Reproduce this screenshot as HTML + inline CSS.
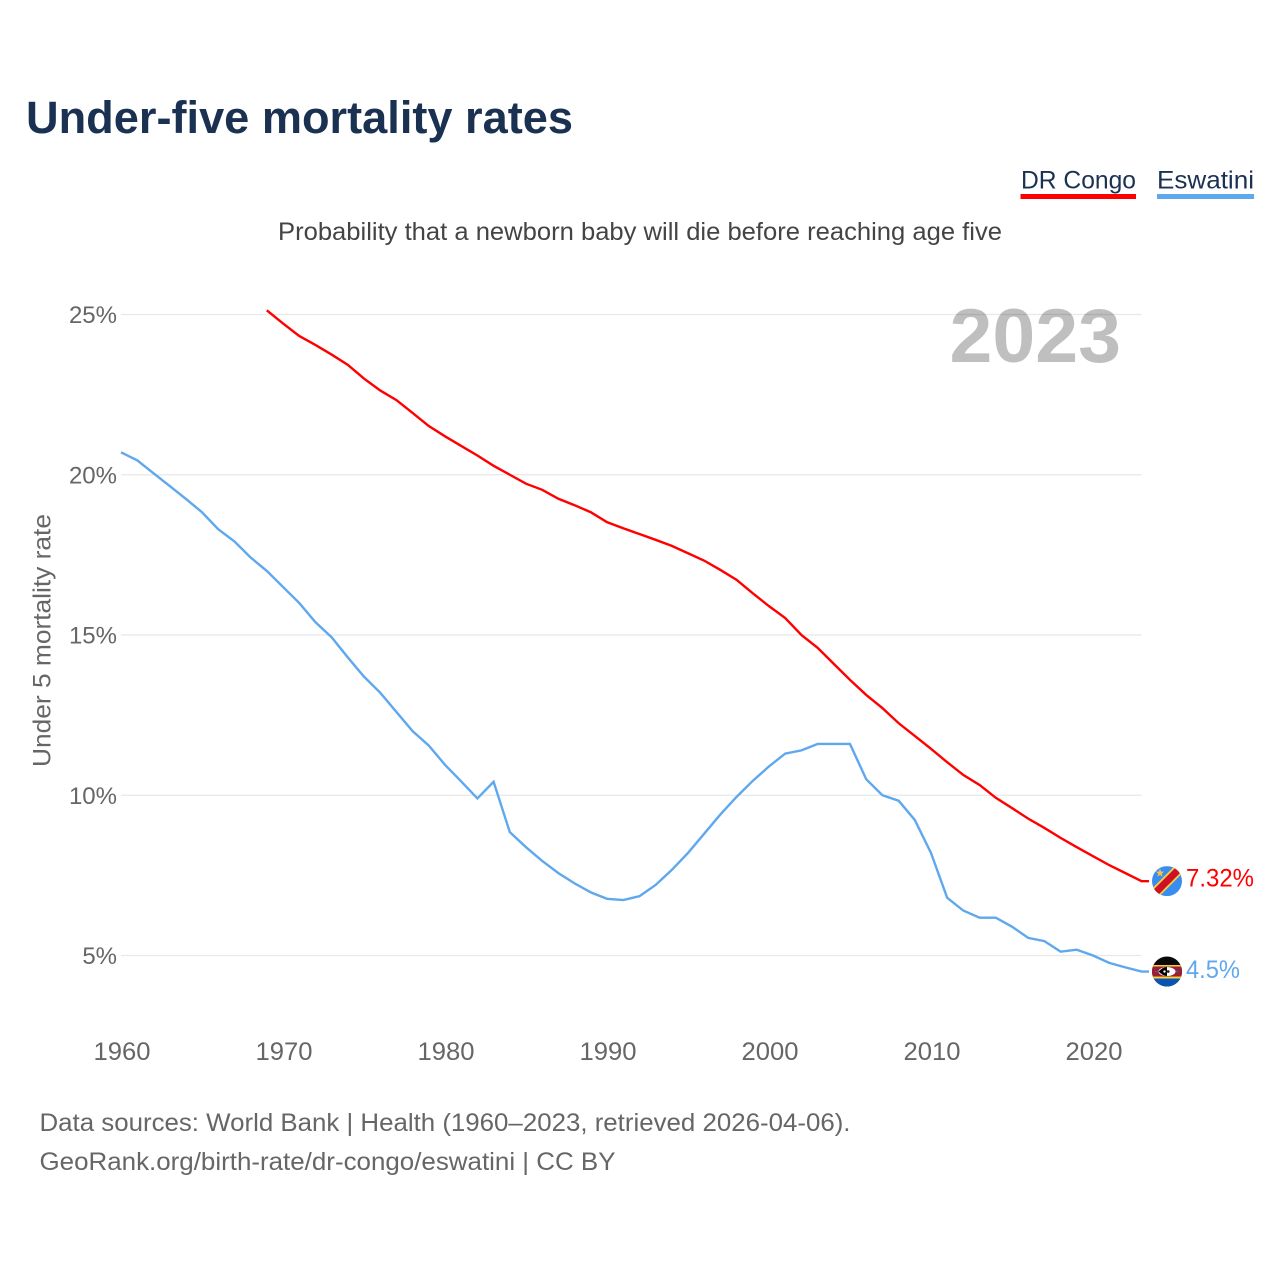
<!DOCTYPE html>
<html lang="en">
<head>
<meta charset="utf-8">
<title>Under-five mortality rates</title>
<style>
html,body{margin:0;padding:0;background:#fff;width:1280px;height:1280px;overflow:hidden}
svg{display:block}
text{font-family:"Liberation Sans",sans-serif}
</style>
</head>
<body>
<svg id="chart" xmlns="http://www.w3.org/2000/svg" width="1280" height="1280" viewBox="0 0 1280 1280">
  <defs>
    <clipPath id="flag-clip-a"><circle cx="0" cy="0" r="15"/></clipPath>
  </defs>
  <text x="26" y="133" font-size="45" font-weight="700" fill="#1a3152" textLength="547" lengthAdjust="spacingAndGlyphs">Under-five mortality rates</text>
  <g>
    <text x="1021" y="188.5" font-size="25" fill="#1a3152" textLength="115" lengthAdjust="spacingAndGlyphs">DR Congo</text>
    <rect x="1020.5" y="194" width="115.5" height="5" fill="#ff0000"/>
  </g>
  <g>
    <text x="1157" y="188.5" font-size="25" fill="#1a3152" textLength="97" lengthAdjust="spacingAndGlyphs">Eswatini</text>
    <rect x="1157" y="194" width="97" height="5" fill="#5fa8ee"/>
  </g>
  <text x="278" y="240" font-size="25" fill="#444444" textLength="724" lengthAdjust="spacingAndGlyphs">Probability that a newborn baby will die before reaching age five</text>
  <g id="grid"></g>
  <text x="949.5" y="362" font-size="76" font-weight="700" fill="#000000" fill-opacity="0.25" textLength="171.5" lengthAdjust="spacingAndGlyphs">2023</text>
  <g id="yticks"></g>
  <g id="xticks"></g>
  <text transform="translate(50.5,767) rotate(-90)" font-size="25" fill="#666666" textLength="253" lengthAdjust="spacingAndGlyphs">Under 5 mortality rate</text>
  <g id="series"></g>
  <g id="flag-congo">
    <g clip-path="url(#flag-clip-a)">
      <rect x="-15" y="-15" width="30" height="30" fill="#3a8df0"/>
      <polygon points="-22,14.5 14.5,-22 22,-14.5 -14.5,22" fill="#f7d13c"/>
      <polygon points="-20,15 15,-20 20,-15 -15,20" fill="#ce1126"/>
      <polygon points="-7,-12.5 -5.9,-9.5 -2.8,-9.5 -5.2,-7.5 -4.4,-4.5 -7,-6.2 -9.6,-4.5 -8.8,-7.5 -11.2,-9.5 -8.1,-9.5" fill="#f7c14c"/>
    </g>
  </g>
  <g id="flag-eswatini">
    <g clip-path="url(#flag-clip-a)">
      <rect x="-15" y="-15" width="30" height="30" fill="#0a0a0a"/>
      <rect x="-15" y="-6.5" width="30" height="1.6" fill="#f9d23c"/>
      <rect x="-15" y="-5" width="30" height="10" fill="#a01c30"/>
      <rect x="-15" y="5" width="30" height="2" fill="#f9d23c"/>
      <rect x="-15" y="7" width="30" height="8" fill="#0a55b0"/>
      <rect x="-12" y="-0.7" width="24" height="1.4" fill="#3a5fa8"/>
      <ellipse cx="0" cy="0" rx="8.5" ry="4.5" fill="#ffffff"/>
      <path d="M-8.5,0 Q-4,-4.5 0,-4.5 L0,4.5 Q-4,4.5 -8.5,0Z" fill="#000000"/>
      <circle cx="1.2" cy="0" r="1.4" fill="#222222"/>
      <circle cx="-2.5" cy="0" r="1.2" fill="#ffffff"/>
    </g>
  </g>
  <text id="label-congo" x="1186" font-size="25" fill="#ff0000" textLength="68" lengthAdjust="spacingAndGlyphs"></text>
  <text id="label-eswatini" x="1186" font-size="25" fill="#5fa8ee" textLength="54" lengthAdjust="spacingAndGlyphs"></text>
  <text x="39.5" y="1131" font-size="25" fill="#666666" textLength="811" lengthAdjust="spacingAndGlyphs">Data sources: World Bank | Health (1960–2023, retrieved 2026-04-06).</text>
  <text x="39.5" y="1170" font-size="25" fill="#666666" textLength="576" lengthAdjust="spacingAndGlyphs">GeoRank.org/birth-rate/dr-congo/eswatini | CC BY</text>
</svg>
<script>
const firstYear = 1960;
const lastYear = 2023;
const xTickYears = [1960, 1970, 1980, 1990, 2000, 2010, 2020];
const yTickValues = [5, 10, 15, 20, 25];
const congoStartYear = 1969;
const congoValues = [25.13, 24.72, 24.33, 24.05, 23.75, 23.43, 23.0, 22.63, 22.33, 21.93, 21.52, 21.2, 20.9, 20.6, 20.28, 20.0, 19.72, 19.53, 19.25, 19.05, 18.83, 18.52, 18.33, 18.15, 17.97, 17.78, 17.55, 17.32, 17.03, 16.72, 16.3, 15.9, 15.53, 15.0, 14.6, 14.1, 13.6, 13.13, 12.72, 12.25, 11.85, 11.45, 11.03, 10.63, 10.32, 9.92, 9.6, 9.27, 8.98, 8.67, 8.38, 8.1, 7.82, 7.57, 7.32];
const eswatiniStartYear = 1960;
const eswatiniValues = [20.7, 20.45, 20.05, 19.65, 19.25, 18.83, 18.3, 17.92, 17.42, 17.0, 16.5, 16.0, 15.4, 14.93, 14.3, 13.7, 13.2, 12.6, 12.0, 11.55, 10.95, 10.43, 9.9, 10.42, 8.85, 8.38, 7.95, 7.57, 7.25, 6.97, 6.77, 6.73, 6.85, 7.2, 7.67, 8.2, 8.8, 9.4, 9.95, 10.45, 10.9, 11.3, 11.4, 11.6, 11.6, 11.6, 10.5, 10.0, 9.83, 9.23, 8.2, 6.8, 6.4, 6.18, 6.18, 5.9, 5.55, 5.45, 5.12, 5.18, 5.0, 4.77, 4.63, 4.5];
const congoEndLabel = "7.32%";
const eswatiniEndLabel = "4.5%";

const NS = "http://www.w3.org/2000/svg";
const plotLeft = 121, plotRight = 1141.6;
const xScale = y => plotLeft + (y - firstYear) * (plotRight - plotLeft) / (lastYear - firstYear);
const yScale = v => 955.5 - (v - 5) * (955.5 - 314.5) / 20;

const gridG = document.getElementById("grid");
const yG = document.getElementById("yticks");
yTickValues.forEach(v => {
  const l = document.createElementNS(NS, "line");
  
  
  l.setAttribute("x1", plotLeft);
  l.setAttribute("x2", plotRight);
  l.setAttribute("y1", yScale(v));
  l.setAttribute("y2", yScale(v));
  l.setAttribute("stroke", "#e8e8e8");
  l.setAttribute("stroke-width", "1.2");
  gridG.appendChild(l);
  const t = document.createElementNS(NS, "text");
  
  
  t.setAttribute("x", 117);
  t.setAttribute("y", yScale(v) + 8.5);
  t.setAttribute("text-anchor", "end");
  t.setAttribute("font-size", "24");
  t.setAttribute("fill", "#666666");
  t.textContent = v + "%";
  yG.appendChild(t);
});

const xG = document.getElementById("xticks");
xTickYears.forEach(y => {
  const t = document.createElementNS(NS, "text");
  
  
  t.setAttribute("x", xScale(y) + 1);
  t.setAttribute("y", 1060);
  t.setAttribute("text-anchor", "middle");
  t.setAttribute("font-size", "25");
  t.setAttribute("fill", "#666666");
  t.setAttribute("textLength", "57");
  t.setAttribute("lengthAdjust", "spacingAndGlyphs");
  t.textContent = y;
  xG.appendChild(t);
});

const seriesG = document.getElementById("series");
const flagEdgeX = 1149;
function pathFor(start, values) {
  const pts = values.map((v, i) => (i ? "L" : "M") + xScale(start + i).toFixed(2) + " " + yScale(v).toFixed(2));
  pts.push("L" + flagEdgeX + " " + yScale(values[values.length - 1]).toFixed(2));
  return pts.join(" ");
}
const congoPath = document.createElementNS(NS, "path");


congoPath.setAttribute("d", pathFor(congoStartYear, congoValues));
congoPath.setAttribute("fill", "none");
congoPath.setAttribute("stroke", "#ff0000");
congoPath.setAttribute("stroke-width", "2.4");
seriesG.appendChild(congoPath);
const eswatiniPath = document.createElementNS(NS, "path");


eswatiniPath.setAttribute("d", pathFor(eswatiniStartYear, eswatiniValues));
eswatiniPath.setAttribute("fill", "none");
eswatiniPath.setAttribute("stroke", "#5fa8ee");
eswatiniPath.setAttribute("stroke-width", "2.4");
seriesG.appendChild(eswatiniPath);

const congoEndY = yScale(congoValues[congoValues.length - 1]);
const eswatiniEndY = yScale(eswatiniValues[eswatiniValues.length - 1]);
document.getElementById("flag-congo").setAttribute("transform", "translate(1167," + congoEndY + ")");
document.getElementById("flag-eswatini").setAttribute("transform", "translate(1167," + eswatiniEndY + ")");
const lc = document.getElementById("label-congo");
lc.setAttribute("y", congoEndY + 5.5);
lc.textContent = congoEndLabel;
const le = document.getElementById("label-eswatini");
le.setAttribute("y", eswatiniEndY + 6.5);
le.textContent = eswatiniEndLabel;
</script>
</body>
</html>
